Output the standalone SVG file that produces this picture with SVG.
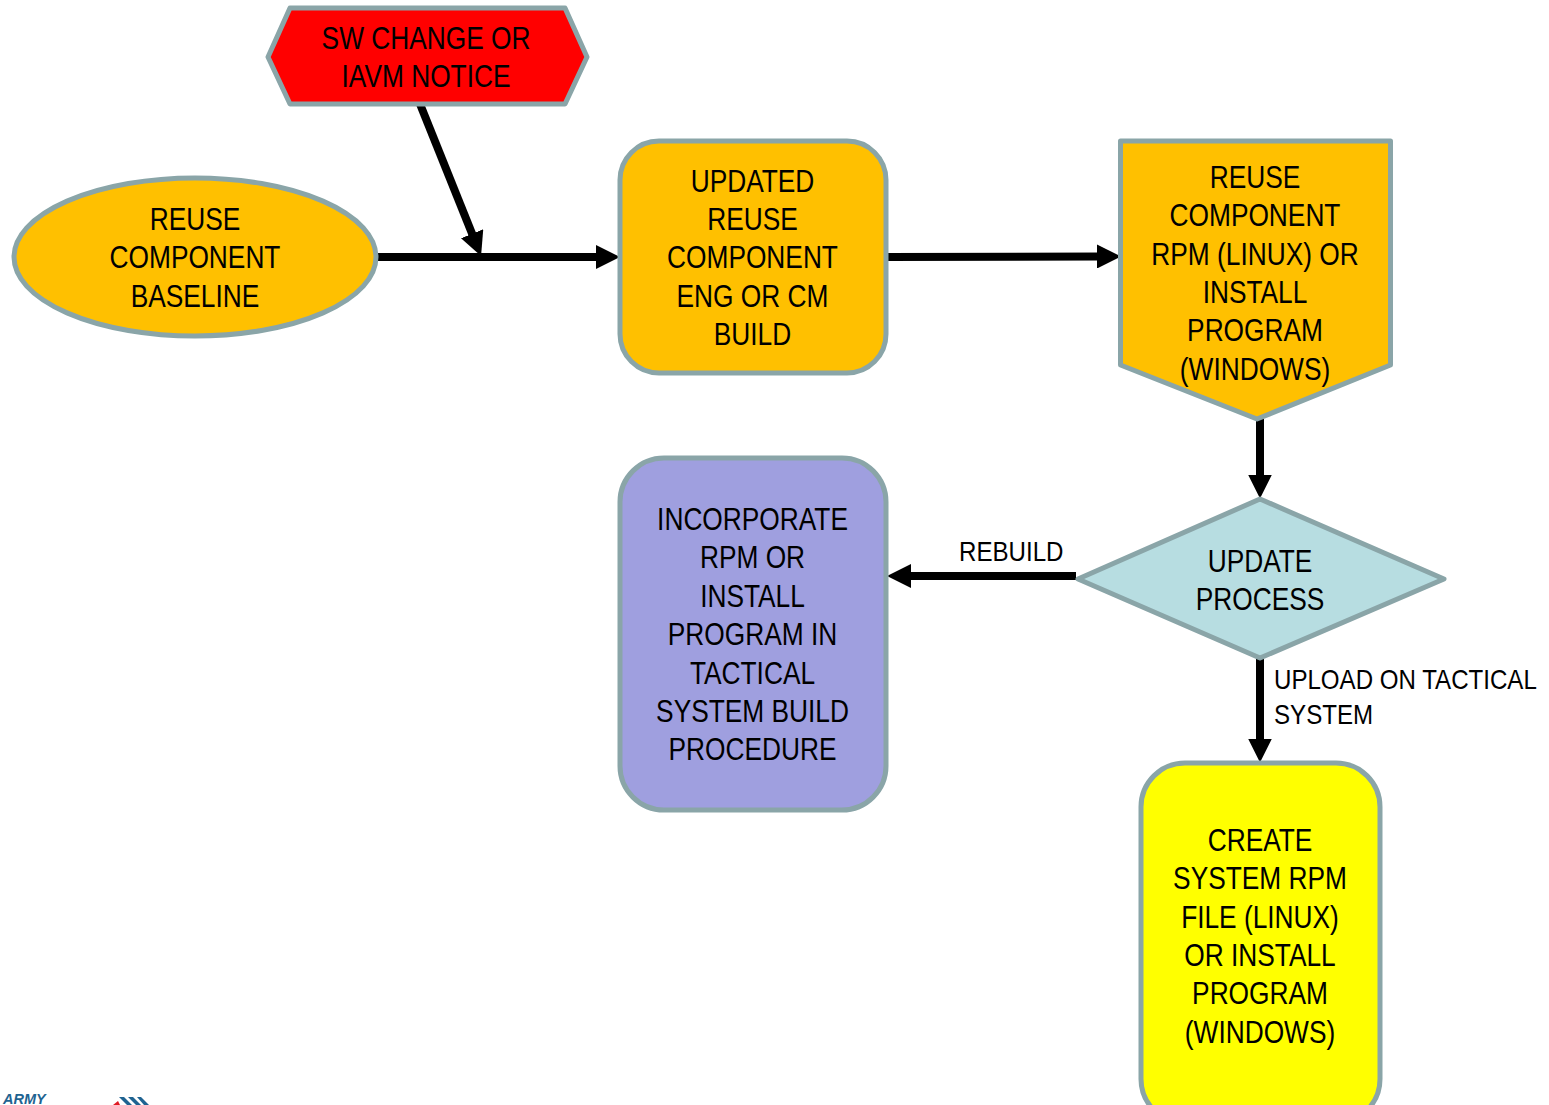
<svg xmlns="http://www.w3.org/2000/svg" width="1549" height="1105" viewBox="0 0 1549 1105">
<style>
.s{stroke:#8aa5a8;stroke-width:5;stroke-linejoin:round}
.t{font-family:"Liberation Sans",Arial,sans-serif;font-size:31px;fill:#000;text-anchor:middle}
.l{font-family:"Liberation Sans",Arial,sans-serif;font-size:28px;fill:#000}
.c{fill:none;stroke:#000;stroke-width:8}
</style>
<defs>
<marker id="a" markerUnits="userSpaceOnUse" markerWidth="24" markerHeight="24" refX="4" refY="12" orient="auto"><path d="M0 0L24 12L0 24z" fill="#000"/></marker>
</defs>
<rect width="1549" height="1105" fill="#fff"/>
<g id="connectors">
<path class="c" d="M378 257H600" marker-end="url(#a)"/>
<path class="c" d="M420 104L473.600 237.400" marker-end="url(#a)"/>
<path class="c" d="M887 257L1101 256.500" marker-end="url(#a)"/>
<path class="c" d="M1260 418V478.500" marker-end="url(#a)"/>
<path class="c" d="M1076 576H907" marker-end="url(#a)"/>
<path class="c" d="M1260 659V742.500" marker-end="url(#a)"/>
</g>
<g id="sw-change">
<path class="s" fill="#f00" d="M290 8H565L587 57L565 104H290L268 57z"/>
<g transform="translate(426 0) scale(.848 1)"><text class="t"><tspan x="0" y="49">SW CHANGE OR</tspan><tspan x="0" y="87">IAVM NOTICE</tspan></text></g>
</g>
<g id="reuse-baseline">
<ellipse class="s" fill="#ffc000" cx="195" cy="257" rx="181" ry="79"/>
<g transform="translate(195 0) scale(.848 1)"><text class="t"><tspan x="0" y="230">REUSE</tspan><tspan x="0" y="268.500">COMPONENT</tspan><tspan x="0" y="307">BASELINE</tspan></text></g>
</g>
<g id="updated-reuse">
<rect class="s" fill="#ffc000" x="620" y="141" width="266" height="232" rx="39"/>
<g transform="translate(752.500 0) scale(.848 1)"><text class="t"><tspan x="0" y="192">UPDATED</tspan><tspan x="0" y="230.500">REUSE</tspan><tspan x="0" y="268.500">COMPONENT</tspan><tspan x="0" y="307">ENG OR CM</tspan><tspan x="0" y="345.500">BUILD</tspan></text></g>
</g>
<g id="reuse-rpm">
<path class="s" fill="#ffc000" d="M1120.500 141H1390.500V365L1257 419L1120.500 365z"/>
<g transform="translate(1255 0) scale(.848 1)"><text class="t"><tspan x="0" y="188">REUSE</tspan><tspan x="0" y="226">COMPONENT</tspan><tspan x="0" y="265">RPM (LINUX) OR</tspan><tspan x="0" y="303">INSTALL</tspan><tspan x="0" y="341">PROGRAM</tspan><tspan x="0" y="380">(WINDOWS)</tspan></text></g>
</g>
<g id="incorporate">
<rect class="s" fill="#9f9fdf" x="620" y="458" width="266" height="352" rx="44"/>
<g transform="translate(752.500 0) scale(.848 1)"><text class="t"><tspan x="0" y="530.500">INCORPORATE</tspan><tspan x="0" y="568.500">RPM OR</tspan><tspan x="0" y="607.500">INSTALL</tspan><tspan x="0" y="645.500">PROGRAM IN</tspan><tspan x="0" y="684.500">TACTICAL</tspan><tspan x="0" y="722.500">SYSTEM BUILD</tspan><tspan x="0" y="760.500">PROCEDURE</tspan></text></g>
</g>
<g id="update-process">
<path class="s" fill="#b7dde1" d="M1260 499L1444 579L1260 658L1078 579z"/>
<g transform="translate(1260 0) scale(.848 1)"><text class="t"><tspan x="0" y="572">UPDATE</tspan><tspan x="0" y="610">PROCESS</tspan></text></g>
</g>
<g id="create-system">
<rect class="s" fill="#ff0" x="1141" y="763" width="239" height="360" rx="44"/>
<g transform="translate(1260 0) scale(.848 1)"><text class="t"><tspan x="0" y="851">CREATE</tspan><tspan x="0" y="889">SYSTEM RPM</tspan><tspan x="0" y="928">FILE (LINUX)</tspan><tspan x="0" y="966">OR INSTALL</tspan><tspan x="0" y="1004.500">PROGRAM</tspan><tspan x="0" y="1043">(WINDOWS)</tspan></text></g>
</g>
<g id="labels">
<g transform="translate(959 0) scale(.861 1)"><text class="l" y="561.500">REBUILD</text></g>
<g transform="translate(1274 0) scale(.861 1)"><text class="l"><tspan x="0" y="689.500">UPLOAD ON TACTICAL</tspan><tspan x="0" y="724.500">SYSTEM</tspan></text></g>
</g>
<g id="logo">
<text x="3" y="1104" font-family="Liberation Sans,Arial,sans-serif" font-size="14.500" font-weight="bold" font-style="italic" fill="#1f6391">ARMY</text>
<path d="M113 1105L118 1101L120 1105z" fill="#e01b24"/>
<path d="M119 1097H124L132 1105H127zM128 1097H133L141 1105H136zM137 1097H141L149 1105H144z" fill="#1f6391"/>
</g>
</svg>
